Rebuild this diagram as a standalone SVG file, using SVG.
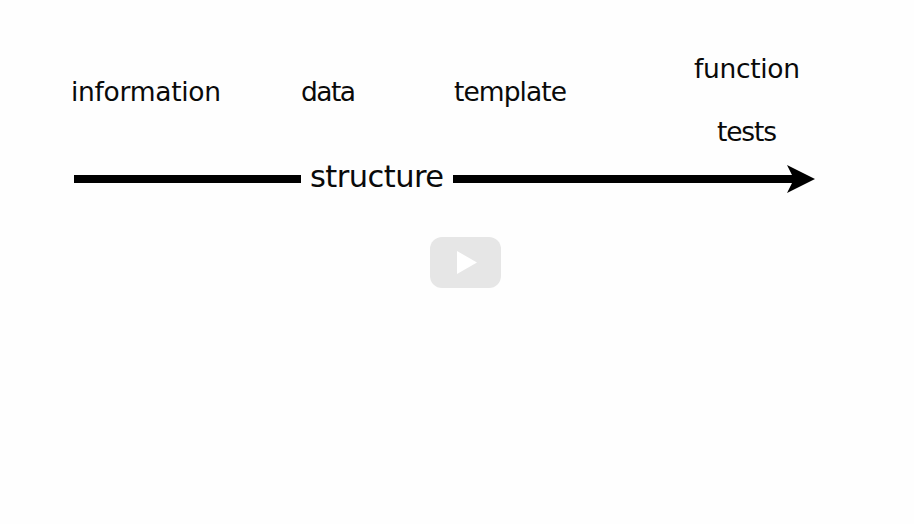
<svg xmlns="http://www.w3.org/2000/svg" width="914" height="524" viewBox="0 0 914 524">
<style>
text{font-family:"DejaVu Sans","Liberation Sans",sans-serif;font-size:26.500px;fill:#0a0a0a}
.c{fill:#000;stroke:none}
</style>
<rect width="914" height="524" fill="#fefefe"/>
<g id="connectors">
<rect class="c" x="74" y="175" width="227" height="8"/>
<path class="c" d="M453 175H792L787 165L815 179L787 193L792 183H453Z"/>
</g>
<g id="node-information"><text x="71" y="101" textLength="150" lengthAdjust="spacing">information</text></g>
<g id="node-data"><text x="301" y="101" textLength="55" lengthAdjust="spacing">data</text></g>
<g id="node-template"><text x="454" y="101" textLength="113" lengthAdjust="spacing">template</text></g>
<g id="node-function"><text x="694" y="78" textLength="106" lengthAdjust="spacing">function</text></g>
<g id="node-tests"><text x="717" y="141" textLength="60" lengthAdjust="spacing">tests</text></g>
<g id="node-structure"><text x="310" y="187" style="font-size:30.500px" textLength="134" lengthAdjust="spacing">structure</text></g>
<g id="play-button">
<rect x="430" y="237" width="71" height="51" rx="12" fill="#e6e6e6"/>
<path d="M457 251L477 262.500L457 274Z" fill="#fff"/>
</g>
</svg>
